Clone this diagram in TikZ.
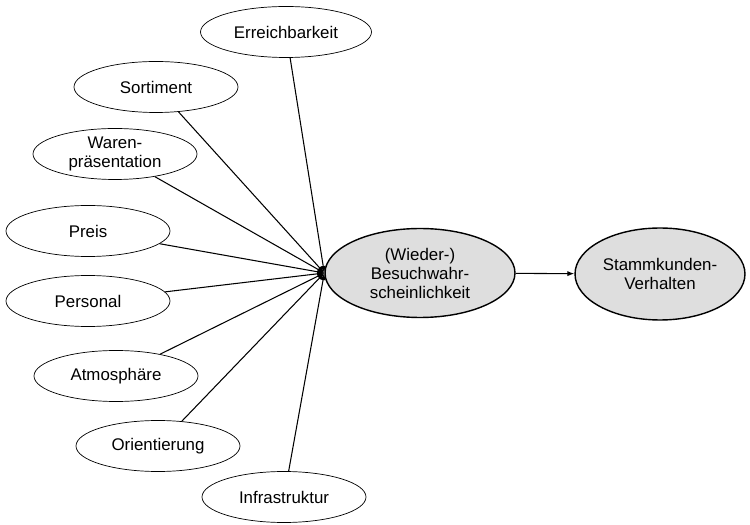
\documentclass[tikz,border=0pt]{standalone}
\usepackage{fontspec}
\setmainfont{Liberation Sans}
\usetikzlibrary{arrows.meta,positioning,shapes.geometric}
\tikzset{
  factor/.style={draw, ellipse, minimum width=3.28cm, minimum height=1.02cm,
                 inner sep=0pt, align=center, font=\fontsize{9.6}{10.8}\selectfont},
  core/.style={factor, fill=black!13, thick, minimum width=3.8cm, minimum height=1.78cm},
  link/.style={-{Latex[length=4pt,width=3pt]}, semithick}
}

\begin{document}
\begin{tikzpicture}[x=0.02cm,y=0.02cm]
  \useasboundingbox (0,0) rectangle (750,524);
  % Einflussfaktoren links
  \node[factor, minimum width=3.42cm] (erreich) at (286,492) {Erreichbarkeit};
  \node[factor] (sort) at (156,437) {Sortiment};
  \node[factor] (waren) at (115,370) {Waren-\\präsentation};
  \node[factor] (preis) at (88,293) {Preis};
  \node[factor] (pers) at (88,223) {Personal};
  \node[factor] (atmo) at (116,148) {Atmosphäre};
  \node[factor] (orient) at (158,78) {Orientierung};
  \node[factor] (infra) at (284,27) {Infrastruktur};
  % Kern
  \node[core] (besuch) at (420,251) {(Wieder-)\\Besuchwahr-\\scheinlichkeit};
  \node[core, minimum width=3.4cm, minimum height=1.84cm] (stamm) at (660,250) {Stammkunden-\\Verhalten};
  \coordinate (hub) at (besuch.west);
  \foreach \f in {erreich,sort,waren,preis,pers,atmo,orient,infra}
    \draw[link] (\f) -- (hub);
  \draw[link] (besuch) -- (stamm);
\end{tikzpicture}
\end{document}
